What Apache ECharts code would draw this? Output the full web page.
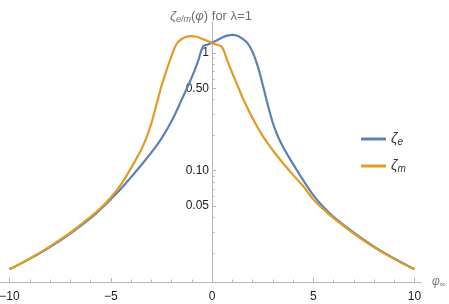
<!DOCTYPE html>
<html><head><meta charset="utf-8">
<script src="https://cdn.jsdelivr.net/npm/echarts@6/dist/echarts.min.js"></script>
<style>html,body{margin:0;padding:0;background:#fff}#c{width:449px;height:304px}</style>
</head><body><div id="c"></div>
<script>
// ζ_e (blue)
const xE = [-10,-9,-8,-7,-6,-5.5,-5,-4.5,-4,-3.5,-3,-2.5,-2,-1.5,-1,-0.7,-0.43,-0.2,0,0.25,0.5,0.75,1,1.25,1.5,1.75,2,2.25,2.5,2.75,3,3.25,3.5,3.75,4,4.25,4.5,5,5.5,6,7,8,9,10];
const zetaE = [0.0145,0.0178,0.0224,0.0292,0.0395,0.047,0.057,0.070,0.088,0.111,0.142,0.187,0.262,0.40,0.62,0.84,1.14,1.18,1.22,1.28,1.35,1.40,1.42,1.40,1.32,1.21,1.02,0.78,0.54,0.365,0.255,0.196,0.160,0.134,0.114,0.097,0.083,0.062,0.049,0.0405,0.0297,0.0226,0.0179,0.0145];
// ζ_m (orange)
const xM = [-10,-9,-8,-7,-6,-5.5,-5,-4.5,-4,-3.75,-3.5,-3.25,-3,-2.75,-2.5,-2.25,-2,-1.75,-1.5,-1.25,-1,-0.75,-0.5,-0.25,0,0.25,0.48,0.75,1,1.25,1.5,1.75,2,2.5,3,3.5,4,4.5,5,5.5,6,7,8,9,10];
const zetaM = [0.0145,0.0179,0.0227,0.0297,0.0405,0.048,0.059,0.076,0.105,0.125,0.150,0.188,0.25,0.36,0.52,0.71,0.94,1.19,1.31,1.37,1.39,1.37,1.32,1.27,1.22,1.17,1.13,0.865,0.675,0.533,0.42,0.34,0.279,0.197,0.149,0.116,0.092,0.074,0.057,0.047,0.0395,0.0292,0.0223,0.0177,0.0145];
// ticks
const xMajorTicks = [-10,-5,0,5,10];
const xMinorTicks = [-9,-8,-7,-6,-4,-3,-2,-1,1,2,3,4,6,7,8,9];
const yMajorTicks = [0.05,0.1,0.5,1];
const yMajorLabels = ['0.05','0.10','0.50','1'];
const yMinorTicks = [0.02,0.03,0.04,0.06,0.07,0.08,0.09,0.2,0.3,0.4,0.6,0.7,0.8,0.9];

const FONT = 'Liberation Sans';
const AX = '#b5b5b5';
const BLUE = '#5E81B5', ORANGE = '#E19C24';
const X_MIN = -10.47, X_MAX = 10.32, Y_MIN = 0.01132, Y_MAX = 1.84;
const W = 449, GRID_L = 0, GRID_R = 28;
// y axis crosses the x axis at x = 0
const Y_AXIS_OFFSET = -(0 - X_MIN) / (X_MAX - X_MIN) * (W - GRID_L - GRID_R);

const chart = echarts.init(document.getElementById('c'), null, {renderer:'canvas'});
const xBase = {type:'value', min:X_MIN, max:X_MAX, splitLine:{show:false}};
const yBase = {type:'log', logBase:10, min:Y_MIN, max:Y_MAX, splitLine:{show:false}, minorTick:{show:false}, position:'left', offset:Y_AXIS_OFFSET};
const G = '#6e6e6e';
chart.setOption({
  animation:false,
  textStyle:{fontFamily:FONT},
  title:{
    text:'{z|ζ}{s|e/m}{n|(}{p|φ}{n|) for λ=1}',
    left:165, top:3,
    textStyle:{fontWeight:'normal',rich:{
      z:{fontFamily:FONT,fontSize:13,fontStyle:'italic',fontWeight:'normal',color:G,lineHeight:16},
      s:{fontFamily:FONT,fontSize:9,fontStyle:'italic',fontWeight:'normal',color:G,lineHeight:9,verticalAlign:'bottom'},
      n:{fontFamily:FONT,fontSize:13,fontWeight:'normal',color:G,lineHeight:16},
      p:{fontFamily:FONT,fontSize:13,fontStyle:'italic',fontWeight:'normal',color:G,lineHeight:16}
    }}
  },
  legend:{
    orient:'vertical', left:356, top:127, itemWidth:25, itemHeight:3, itemGap:12,
    icon:'rect',
    data:['ζe','ζm'],
    formatter:function(n){return '{z|ζ}{s|'+n.slice(1)+'}';},
    textStyle:{rich:{
      z:{fontFamily:FONT,fontSize:14,fontStyle:'italic',color:'#333',lineHeight:16},
      s:{fontFamily:FONT,fontSize:10,fontStyle:'italic',color:'#333',lineHeight:10,verticalAlign:'bottom'}
    }}
  },
  grid:{left:GRID_L, right:GRID_R, top:21.7, bottom:22, containLabel:false, outerBoundsMode:'none'},
  xAxis:[
    Object.assign({}, xBase, {
      position:'bottom',
      axisLine:{show:true,onZero:false,lineStyle:{color:AX,width:1}},
      axisTick:{show:true,inside:true,length:4,lineStyle:{color:AX},customValues:xMajorTicks},
      axisLabel:{show:true,customValues:xMajorTicks,margin:9,color:'#222',fontSize:12,fontFamily:FONT,
        formatter:function(v){return v<0?'\u2212'+Math.abs(v):String(v);}},
      name:'{p|φ}{s|∞}', nameLocation:'end', nameGap:11,
      nameTextStyle:{rich:{
        p:{fontFamily:FONT,fontSize:12,fontStyle:'italic',color:'#7a7a7a',lineHeight:14},
        s:{fontFamily:FONT,fontSize:8,color:'#7a7a7a',lineHeight:8,verticalAlign:'bottom'}
      }}
    }),
    Object.assign({}, xBase, {
      position:'bottom',
      axisLine:{show:false,onZero:false},
      axisTick:{show:true,inside:true,length:2.5,lineStyle:{color:AX},customValues:xMinorTicks},
      axisLabel:{show:false}
    })
  ],
  yAxis:[
    Object.assign({}, yBase, {
      axisLine:{show:true,onZero:false,lineStyle:{color:AX,width:1}},
      axisTick:{show:true,inside:true,length:4,lineStyle:{color:AX},customValues:yMajorTicks},
      axisLabel:{show:true,customValues:yMajorTicks,margin:3,color:'#222',fontSize:12,fontFamily:FONT,
        formatter:function(v){
          let best=0,bd=1e9;
          yMajorTicks.forEach(function(t,i){const d=Math.abs(Math.log(v/t)); if(d<bd){bd=d;best=i;}});
          return yMajorLabels[best];
        }}
    }),
    Object.assign({}, yBase, {
      axisLine:{show:false,onZero:false},
      axisTick:{show:true,inside:true,length:2.5,lineStyle:{color:AX},customValues:yMinorTicks},
      axisLabel:{show:false}
    })
  ],
  series:[
    {name:'ζe', type:'line', xAxisIndex:0, yAxisIndex:0, showSymbol:false, smooth:0.4,
      lineStyle:{color:BLUE,width:2.2}, itemStyle:{color:BLUE},
      data:xE.map(function(x,i){return [x,zetaE[i]];}), z:2},
    {name:'ζm', type:'line', xAxisIndex:0, yAxisIndex:0, showSymbol:false, smooth:0.4,
      lineStyle:{color:ORANGE,width:2.2}, itemStyle:{color:ORANGE},
      data:xM.map(function(x,i){return [x,zetaM[i]];}), z:3}
  ]
});
</script></body></html>
